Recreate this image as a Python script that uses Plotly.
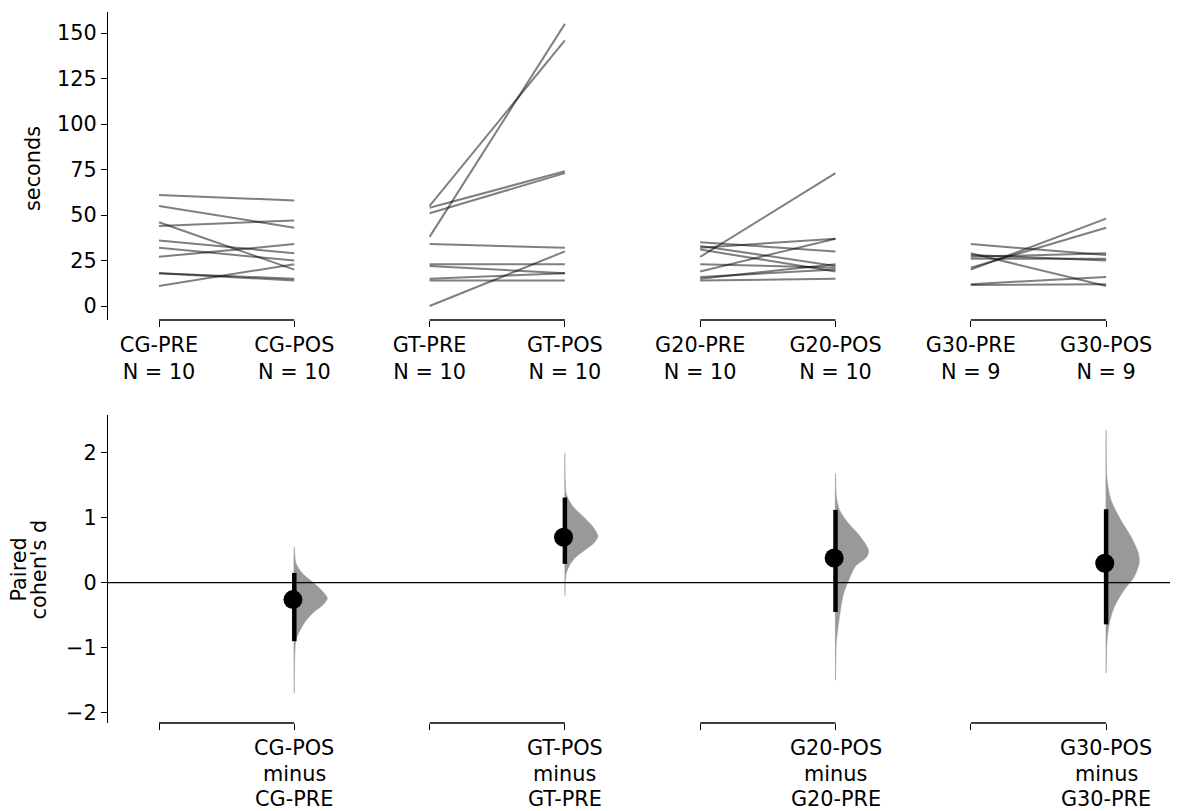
import plotly.graph_objects as go

# ---------------- data ----------------
groups = ["CG", "GT", "G20", "G30"]
n_obs = [10, 10, 10, 9]

cg_pre = [61, 55, 46, 44, 36, 32, 27, 18, 18, 11]
cg_pos = [58, 43, 20, 47, 29, 25, 34, 15, 14, 23]
gt_pre = [55, 54, 51, 38, 34, 23, 22, 15, 14, 0]
gt_pos = [146, 74, 73, 155, 32, 23, 18, 18, 14, 30]
g20_pre = [35, 33, 32, 31, 27, 23, 19, 16, 15, 14]
g20_pos = [30, 22, 37, 19, 73, 21, 37, 20, 23, 15]
g30_pre = [34, 29, 28, 27, 26, 21, 20, 12, 11.5]
g30_pos = [28, 11, 25, 29, 26, 43, 48, 16, 12]

pre_values = [cg_pre, gt_pre, g20_pre, g30_pre]
pos_values = [cg_pos, gt_pos, g20_pos, g30_pos]

effect_d = [-0.26, 0.70, 0.38, 0.30]
ci_low = [-0.90, 0.29, -0.45, -0.64]
ci_high = [0.15, 1.31, 1.12, 1.13]

# bootstrap distribution profiles (relative density)
cg_dist_y = [0.55, 0.30, 0.14, -0.01, -0.14, -0.24, -0.34, -0.47, -0.62, -0.78, -0.88, -1.19, -1.70]
cg_dist_d = [0.0, 0.05, 0.25, 0.60, 0.87, 1.00, 0.87, 0.55, 0.30, 0.13, 0.05, 0.01, 0.0]
gt_dist_y = [2.0, 1.58, 1.35, 1.17, 1.02, 0.86, 0.71, 0.61, 0.50, 0.38, 0.25, 0.14, 0.0, -0.2]
gt_dist_d = [0.0, 0.01, 0.05, 0.25, 0.55, 0.85, 1.00, 0.88, 0.60, 0.30, 0.12, 0.04, 0.01, 0.0]
g20_dist_y = [1.68, 1.32, 1.12, 0.91, 0.71, 0.50, 0.40, 0.25, 0.04, -0.16, -0.42, -0.68, -0.88, -1.19, -1.5]
g20_dist_d = [0.0, 0.03, 0.12, 0.40, 0.75, 1.00, 0.95, 0.60, 0.40, 0.25, 0.15, 0.08, 0.03, 0.01, 0.0]
g30_dist_y = [2.35, 1.58, 1.27, 0.96, 0.71, 0.45, 0.30, 0.09, -0.11, -0.37, -0.62, -0.88, -1.39]
g30_dist_d = [0.0, 0.03, 0.15, 0.45, 0.75, 0.98, 1.00, 0.85, 0.55, 0.25, 0.10, 0.03, 0.0]
dist_ys = [cg_dist_y, gt_dist_y, g20_dist_y, g30_dist_y]
dist_ds = [cg_dist_d, gt_dist_d, g20_dist_d, g30_dist_d]

top_ticks = [0, 25, 50, 75, 100, 125, 150]
bot_ticks = [-2, -1, 0, 1, 2]

# ---------------- layout constants ----------------
OFF = 8  # page body margin of the html page
W, H = 1178 - OFF, 811 - OFF
FONT = dict(family="DejaVu Sans", size=20.8, color="black")


def px_x(p):
    return p - OFF


def px_y(p):
    return p - OFF


x_left_px = px_x(108)
px_per_cat = 135.3
first_cat_px = px_x(159)
x_range = [(x_left_px - first_cat_px) / px_per_cat, (W - first_cat_px) / px_per_cat]
x_domain = [x_left_px / W, 1.0]
top_domain = [1 - px_y(320) / H, 1 - px_y(12) / H]
bot_domain = [1 - px_y(723) / H, 1 - px_y(415) / H]
half_width = 33 / px_per_cat

fig = go.Figure()

# ---- top: paired slope lines ----
for gi, g in enumerate(groups):
    x0, x1 = 2 * gi, 2 * gi + 1
    for a, b in zip(pre_values[gi], pos_values[gi]):
        fig.add_trace(go.Scatter(
            x=[x0, x1], y=[a, b], mode="lines",
            line=dict(color="rgba(0,0,0,0.5)", width=2),
            xaxis="x", yaxis="y", showlegend=False, hoverinfo="skip"))

# ---- bottom: effect sizes ----
for gi, g in enumerate(groups):
    pos = 2 * gi + 1
    ys = dist_ys[gi]
    ds = dist_ds[gi]
    px = [pos + d * half_width for d in ds] + [pos, pos]
    py = list(ys) + [ys[-1], ys[0]]
    fig.add_trace(go.Scatter(
        x=px, y=py, mode="lines", fill="toself",
        fillcolor="#999999", line=dict(color="#999999", width=0.5, shape="spline", smoothing=0.8),
        xaxis="x2", yaxis="y2", showlegend=False, hoverinfo="skip"))
    fig.add_trace(go.Scatter(
        x=[pos, pos], y=[ci_low[gi], ci_high[gi]], mode="lines",
        line=dict(color="black", width=4.5),
        xaxis="x2", yaxis="y2", showlegend=False, hoverinfo="skip"))
    fig.add_trace(go.Scatter(
        x=[pos - 0.01], y=[effect_d[gi]], mode="markers",
        marker=dict(color="black", size=19),
        xaxis="x2", yaxis="y2", showlegend=False, hoverinfo="skip"))

top_tickvals = list(range(8))
top_ticktext = []
for g, n in zip(groups, n_obs):
    top_ticktext += [f"{g}-PRE<br>N = {n}", f"{g}-POS<br>N = {n}"]
bot_ticktext = [""] * 8

shapes = []
for gi in range(4):
    for yd in (top_domain[0], bot_domain[0]):
        shapes.append(dict(type="line", xref="x", yref="paper",
                           x0=2 * gi, x1=2 * gi + 1, y0=yd, y1=yd,
                           line=dict(color="black", width=1.3)))
shapes.append(dict(type="line", xref="paper", yref="y2", x0=x_domain[0], x1=1,
                   y0=0, y1=0, line=dict(color="black", width=1.3)))

annotations = [
    dict(text="seconds", xref="paper", yref="paper", x=px_x(33) / W, y=1 - px_y(169) / H,
         textangle=-90, showarrow=False, font=FONT, xanchor="center", yanchor="middle"),
    dict(text="Paired", xref="paper", yref="paper", x=px_x(18.5) / W, y=1 - px_y(570) / H,
         textangle=-90, showarrow=False, font=FONT, xanchor="center", yanchor="middle"),
    dict(text="cohen's d", xref="paper", yref="paper", x=px_x(38.5) / W, y=1 - px_y(570) / H,
         textangle=-90, showarrow=False, font=FONT, xanchor="center", yanchor="middle"),
]
# bottom tick labels (three lines, matplotlib-like line spacing)
line_centers_px = [748, 774, 799]
for gi, g in enumerate(groups):
    pos = 2 * gi + 1
    for txt, yc in zip([f"{g}-POS", "minus", f"{g}-PRE"], line_centers_px):
        annotations.append(dict(text=txt, xref="x2", yref="paper", x=pos, y=1 - px_y(yc) / H,
                                showarrow=False, font=FONT, xanchor="center", yanchor="middle"))

axis_common = dict(showgrid=False, zeroline=False, automargin=False,
                   tickfont=FONT, tickcolor="black", ticklen=6, tickwidth=1.3)

fig.update_layout(
    width=W, height=H, margin=dict(l=0, r=0, t=0, b=0),
    paper_bgcolor="white", plot_bgcolor="white", font=FONT,
    template="none", showlegend=False,
    xaxis=dict(domain=x_domain, range=x_range, anchor="y", showline=False,
               ticks="outside", tickvals=top_tickvals, ticktext=top_ticktext, **axis_common),
    yaxis=dict(domain=top_domain, range=[(306 - 320) / 1.82, (306 - 12) / 1.82], anchor="x",
               showline=True, linecolor="black", linewidth=1.3, ticks="outside",
               tickvals=top_ticks, **axis_common),
    xaxis2=dict(domain=x_domain, range=x_range, anchor="y2", showline=False,
                ticks="outside", tickvals=top_tickvals, ticktext=bot_ticktext, **axis_common),
    yaxis2=dict(domain=bot_domain, range=[(582.7 - 723) / 65, (582.7 - 415) / 65], anchor="x2",
                showline=True, linecolor="black", linewidth=1.3, ticks="outside",
                tickvals=bot_ticks, **axis_common),
    shapes=shapes,
    annotations=annotations,
)

fig.write_html("out.html")
